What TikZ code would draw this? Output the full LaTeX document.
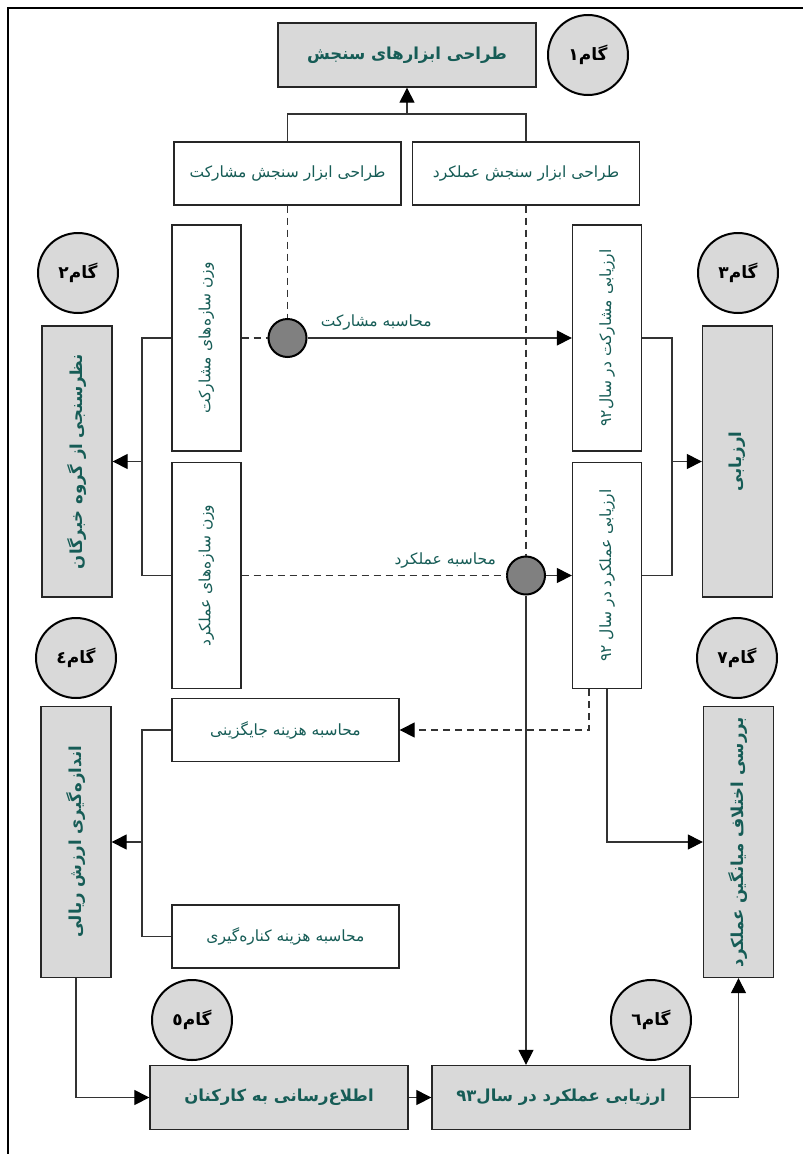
\documentclass[tikz,border=0pt]{standalone}
\usepackage{fontspec}
\newfontfamily\arabicfont[Script=Arabic]{DejaVu Sans}
\TeXXeTstate=1
\usetikzlibrary{arrows.meta}
\definecolor{txt}{RGB}{22,92,86}
\definecolor{boxgray}{RGB}{217,217,217}
\definecolor{dotgray}{RGB}{128,128,128}
\newcommand{\fa}[1]{\beginR #1\endR}
\newcommand{\vfa}[1]{\rotatebox{90}{\fa{#1}}}

\begin{document}
\begin{tikzpicture}
[x=1pt, y=-1pt,
    every node/.style={font=\arabicfont\fontsize{15.5}{18}\selectfont, text=txt, inner sep=2pt},
    wbox/.style={draw=black!85, line width=1.3pt, fill=white, minimum width=227pt, minimum height=63pt},
    vbox/.style={wbox, minimum width=69pt, minimum height=226pt},
    gbox/.style={draw=black!85, line width=1.3pt, fill=boxgray, minimum width=258pt, minimum height=64pt,
        font=\arabicfont\bfseries\fontsize{16.5}{19}\selectfont},
    gvbox/.style={gbox, minimum width=70pt, minimum height=271pt},
    stepc/.style={circle, draw, line width=2pt, fill=boxgray, minimum size=80pt, text=black,
        font=\arabicfont\bfseries\fontsize{17}{19}\selectfont},
    jdot/.style={circle, draw, line width=2pt, fill=dotgray, minimum size=38pt, inner sep=0pt},
    conn/.style={draw=black!80, line width=1.1pt},
    tip/.style={-{Triangle[length=15pt,width=15pt,color=black]}},
    arr/.style={conn, tip},
    dsh/.style={conn, dash pattern=on 7pt off 5pt}]
    \useasboundingbox (0,0) rectangle (803,1154);
    \draw[line width=1.2pt] (803,8) -| (8,1154);

    % steps
    \node[gbox] (s1) at (407,55) {\fa{طراحی ابزارهای سنجش}};
    \node[gvbox] (s2) at (77,461.5) {\vfa{نظرسنجی از گروه خبرگان}};
    \node[gvbox] (s3) at (737.5,461.5) {\vfa{ارزیابی}};
    \node[gvbox] (s4) at (76,842) {\vfa{اندازه‌گیری ارزش ریالی}};
    \node[gbox] (s5) at (279,1097.5) {\fa{اطلاع‌رسانی به کارکنان}};
    \node[gbox] (s6) at (561,1097.5) {\fa{ارزیابی عملکرد در سال\beginL ۹۳\endL}};
    \node[gvbox] (s7) at (738.5,842) {\vfa{بررسی اختلاف میانگین عملکرد}};
    \node[stepc] (c1) at (588,55) {\fa{گام۱}};
    \node[stepc] (c2) at (78,273) {\fa{گام۲}};
    \node[stepc] (c3) at (738,273) {\fa{گام۳}};
    \node[stepc] (c4) at (76,658) {\fa{گام٤}};
    \node[stepc] (c5) at (192,1020) {\fa{گام٥}};
    \node[stepc] (c6) at (651,1020) {\fa{گام٦}};
    \node[stepc] (c7) at (737,658) {\fa{گام۷}};

    % sub tasks
    \node[wbox] (dm) at (287.5,173.5) {\fa{طراحی ابزار سنجش مشارکت}};
    \node[wbox] (dp) at (526,173.5) {\fa{طراحی ابزار سنجش عملکرد}};
    \node[vbox] (w2a) at (206.5,338) {\vfa{وزن سازه‌های مشارکت}};
    \node[vbox] (w2b) at (206.5,575.5) {\vfa{وزن سازه‌های عملکرد}};
    \node[vbox] (e3a) at (607,338) {\vfa{ارزیابی مشارکت در سال\beginL ۹۲\endL}};
    \node[vbox] (e3b) at (607,575.5) {\vfa{ارزیابی عملکرد در سال \beginL ۹۲\endL}};
    \node[wbox] (hj) at (285.5,730) {\fa{محاسبه هزینه جایگزینی}};
    \node[wbox] (hk) at (285.5,936.5) {\fa{محاسبه هزینه کناره‌گیری}};
    \node[jdot] (j1) at (287.5,338) {};
    \node[jdot] (j2) at (526,575.5) {};

    \coordinate (t1) at (407,114);
    \coordinate (m2) at (142,461.5);
    \coordinate (m3) at (672,461.5);
    \coordinate (m4) at (142,842);

    % connectors
    \draw[conn] (dm.north) |- (t1) -| (dp.north);
    \draw[arr] (t1) -- (s1.south);
    \draw[dsh] (dm.south) -- (j1);
    \draw[dsh] (w2a.east) -- (j1);
    \draw[arr] (j1) -- node[pos=.26, above=5pt] {\fa{محاسبه مشارکت}} (e3a);
    \draw[dsh] (dp.south) -- (j2);
    \draw[dsh] (w2b.east) -- node[pos=.77, above=5pt] {\fa{محاسبه عملکرد}} (j2);
    \draw[arr] (j2) -- (e3b);
    \draw[arr] (j2.south) -- (j2.south |- s6.north);
    \draw[conn] (w2a.west) -| (m2) |- (w2b.west);
    \draw[arr] (m2) -- (s2.east);
    \draw[conn] (e3a.east) -| (m3) |- (e3b.east);
    \draw[arr] (m3) -- (s3.west);
    \draw[dsh, tip] ([xshift=-18pt]e3b.south) |- (hj.east);
    \draw[arr] (e3b.south) |- (s7.west);
    \draw[conn] (hj.west) -| (m4) |- (hk.west);
    \draw[arr] (m4) -- (s4.east);
    \draw[arr] (s4.south) |- (s5.west);
    \draw[arr] (s5.east) -- (s6.west);
    \draw[arr] (s6.east) -| (s7.south);
\end{tikzpicture}
\end{document}
